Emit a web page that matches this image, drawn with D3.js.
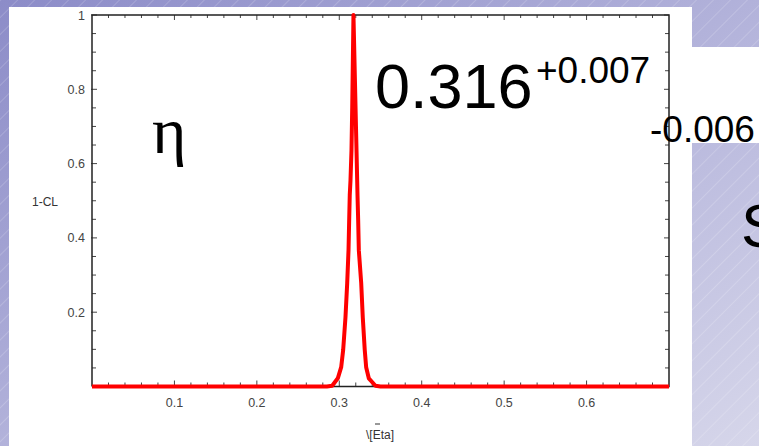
<!DOCTYPE html>
<html><head><meta charset="utf-8">
<script src="https://cdn.jsdelivr.net/npm/d3@7"></script>
<style>html,body{margin:0;padding:0;overflow:hidden;background:#b0b0d8}</style>
</head><body>
<svg id="c" width="759" height="446"></svg>
<script>
// ---- data ----
const curveX = [0.0, 0.285, 0.2914, 0.2982, 0.3023, 0.3047, 0.3075, 0.3096, 0.3112, 0.3120, 0.3127, 0.3136, 0.3148, 0.3157, 0.3172,
                0.3197, 0.3209, 0.3217, 0.3221, 0.3229, 0.3237, 0.3266, 0.3285, 0.3309, 0.3326, 0.3358, 0.3439, 0.350, 0.7];
const curveY = [0.0, 0.0, 0.002, 0.022, 0.052, 0.098, 0.186, 0.278, 0.367, 0.448, 0.515, 0.555, 0.636, 0.752, 1.0,
                0.752, 0.636, 0.555, 0.515, 0.448, 0.367, 0.278, 0.186, 0.098, 0.052, 0.022, 0.002, 0.0, 0.0];
const xTickLabels = ["0.1","0.2","0.3","0.4","0.5","0.6"];
const xTickValues = [0.1,0.2,0.3,0.4,0.5,0.6];
const yTickLabels = ["0.2","0.4","0.6","0.8","1"];
const yTickValues = [0.2,0.4,0.6,0.8,1.0];
const xDomain = [0, 0.7];
const yDomain = [0, 1];
const bestFit = "0.316", errPlus = "+0.007", errMinus = "-0.006";

const svg = d3.select("#c");
// background
const defs = svg.append("defs");
const g = defs.append("linearGradient").attr("id","bg").attr("x1","0").attr("y1","0").attr("x2","1").attr("y2","1");
g.append("stop").attr("offset","0").attr("stop-color","#8c8cc8");
g.append("stop").attr("offset","0.55").attr("stop-color","#b6b6dc");
g.append("stop").attr("offset","1").attr("stop-color","#d6d6ea");
const pat = defs.append("pattern").attr("id","stripes").attr("width",12).attr("height",12)
  .attr("patternUnits","userSpaceOnUse").attr("patternTransform","rotate(45)");
pat.append("line").attr("x1",0).attr("y1",0).attr("x2",0).attr("y2",12)
  .attr("stroke","#ffffff").attr("stroke-opacity",0.35).attr("stroke-width",1);
svg.append("rect").attr("width",759).attr("height",446).attr("fill","url(#bg)");
svg.append("rect").attr("width",759).attr("height",446).attr("fill","url(#stripes)");
// white panels
svg.append("rect").attr("x",9).attr("y",7).attr("width",683).attr("height",439).attr("fill","#fff");
svg.append("rect").attr("x",692).attr("y",47).attr("width",67).attr("height",96).attr("fill","#fff");

const L=92, R=669, T=15, B=386.5;
const x = d3.scaleLinear().domain(xDomain).range([L,R]);
const y = d3.scaleLinear().domain(yDomain).range([B,T]);
const font = "'Liberation Sans', Arial, sans-serif";
const tickCol = "#444";

// minor ticks
const xMinor = d3.range(0.02, 0.7, 0.02).filter(v => Math.abs(v*10 - Math.round(v*10)) > 1e-6);
const yMinor = d3.range(0.05, 1.0, 0.05).filter(v => Math.abs(v*5 - Math.round(v*5)) > 1e-6);
const axG = svg.append("g").attr("stroke","#444").attr("stroke-width",1);
xMinor.forEach(v => {
  axG.append("line").attr("x1",x(v)).attr("x2",x(v)).attr("y1",B).attr("y2",B-4);
  axG.append("line").attr("x1",x(v)).attr("x2",x(v)).attr("y1",T).attr("y2",T+3);
});
xTickValues.forEach(v => {
  axG.append("line").attr("x1",x(v)).attr("x2",x(v)).attr("y1",B).attr("y2",B-6);
  axG.append("line").attr("x1",x(v)).attr("x2",x(v)).attr("y1",T).attr("y2",T+5);
});
yMinor.forEach(v => {
  axG.append("line").attr("x1",L).attr("x2",L+4).attr("y1",y(v)).attr("y2",y(v));
  axG.append("line").attr("x1",R).attr("x2",R-4).attr("y1",y(v)).attr("y2",y(v));
});
yTickValues.forEach(v => {
  axG.append("line").attr("x1",L-1).attr("x2",L+5).attr("y1",y(v)).attr("y2",y(v));
  axG.append("line").attr("x1",R).attr("x2",R-5).attr("y1",y(v)).attr("y2",y(v));
});
// frame
svg.append("path").attr("d",`M${L},${B}V${T}H${R}V${B}H${L}`).attr("fill","none")
  .attr("stroke","#222").attr("stroke-width",1.5);

// tick labels
svg.append("g").selectAll("text").data(xTickValues).join("text")
  .attr("x",d=>x(d)).attr("y",407).attr("text-anchor","middle")
  .attr("font-family",font).attr("font-size",12.5).attr("fill",tickCol)
  .text((d,i)=>xTickLabels[i]);
svg.append("g").selectAll("text").data(yTickValues).join("text")
  .attr("x",85).attr("y",d=>y(d)+4.5).attr("text-anchor","end")
  .attr("font-family",font).attr("font-size",12.5).attr("fill",tickCol)
  .text((d,i)=>yTickLabels[i]);

// axis titles
svg.append("text").attr("x",45).attr("y",206).attr("text-anchor","middle")
  .attr("font-family",font).attr("font-size",12).attr("fill","#333").text("1-CL");
svg.append("text").attr("x",380).attr("y",439).attr("text-anchor","middle")
  .attr("font-family",font).attr("font-size",12).attr("fill","#333").text("\\[Eta]");
svg.append("line").attr("x1",375).attr("x2",380).attr("y1",424).attr("y2",424)
  .attr("stroke","#333").attr("stroke-width",1);

// curve
const pts = curveX.map((v,i)=>[v,curveY[i]]);
svg.append("path").datum(pts)
  .attr("d", d3.line().x(d=>x(d[0])).y(d=>y(d[1])))
  .attr("fill","none").attr("stroke","#ff0000").attr("stroke-width",4)
  .attr("stroke-linejoin","round");

// annotations
svg.append("text").attr("x",152).attr("y",153).attr("font-family","'Liberation Serif','Times New Roman',serif")
  .attr("font-size",66).attr("fill","#000").text("η");
svg.append("text").attr("x",375).attr("y",108).attr("font-family",font)
  .attr("font-size",63).attr("fill","#000").text(bestFit);
svg.append("text").attr("x",536).attr("y",83).attr("font-family",font)
  .attr("font-size",37).attr("fill","#000").text(errPlus);
svg.append("text").attr("x",650).attr("y",142).attr("font-family",font)
  .attr("font-size",37).attr("fill","#000").text(errMinus);
svg.append("text").attr("x",741).attr("y",247).attr("font-family",font)
  .attr("font-size",62).attr("fill","#000").text("S");
</script>
</body></html>
